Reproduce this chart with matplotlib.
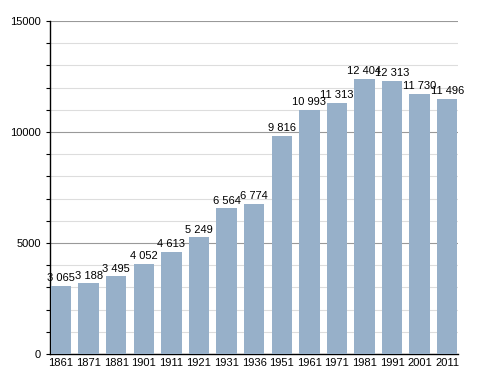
import matplotlib.pyplot as plt
from matplotlib.ticker import MultipleLocator

years = ["1861", "1871", "1881", "1901", "1911", "1921", "1931", "1936",
         "1951", "1961", "1971", "1981", "1991", "2001", "2011"]
population = [3065, 3188, 3495, 4052, 4613, 5249, 6564, 6774,
              9816, 10993, 11313, 12404, 12313, 11730, 11496]

plt.rcParams['font.family'] = ['Liberation Sans', 'DejaVu Sans']

fig = plt.figure(figsize=(4.88, 3.73), dpi=100)
ax = fig.add_axes([0.1025, 0.0509, 0.836, 0.8928])

x = range(len(years))
ax.bar(x, population, width=0.74, color='#97b0c9', zorder=3)

for i, v in enumerate(population):
    lbl = "{:,}".format(v).replace(",", " ")
    ax.text(i, v + 120, lbl, ha='center', va='bottom', fontsize=8, zorder=4)

ax.set_xlim(-0.40, len(years) - 0.61)
ax.set_ylim(0, 15000)
ax.yaxis.set_major_locator(MultipleLocator(5000))
ax.yaxis.set_minor_locator(MultipleLocator(1000))
ax.grid(axis='y', which='minor', color='#dddddd', linewidth=0.8, zorder=0)
ax.grid(axis='y', which='major', color='#999999', linewidth=0.8, zorder=1)

ax.set_xticks(list(x))
ax.set_xticklabels(years, fontsize=8)
ax.tick_params(axis='x', length=0, pad=3)
ax.tick_params(axis='y', which='both', labelsize=8, length=3, width=0.8)

for s in ['top', 'right']:
    ax.spines[s].set_visible(False)
ax.spines['left'].set_linewidth(1)
ax.spines['bottom'].set_linewidth(1)

plt.savefig('out.png', dpi=100)
